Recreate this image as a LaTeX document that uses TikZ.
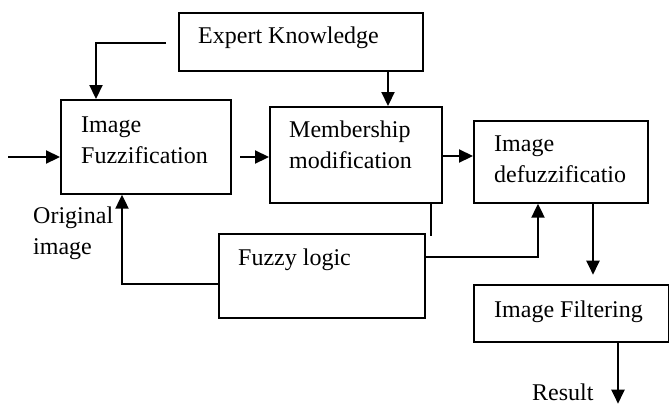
\documentclass[tikz,border=0pt]{standalone}
\usepackage{fontspec}
\setmainfont{Liberation Serif}
\usetikzlibrary{calc,arrows.meta}

\begin{document}
\begin{tikzpicture}[x=1pt,y=-1pt,
  box/.style={draw, line width=1.7pt, inner sep=0pt, anchor=north west},
  lbl/.style={anchor=base west, inner sep=0pt, align=left, font=\fontsize{24}{31}\selectfont},
  arr/.style={line width=2.2pt, -{Triangle[length=14pt,width=13pt]}},
  stub/.style={line width=2.2pt}]
\useasboundingbox (0,0) rectangle (669,405);

\node [box, minimum width=244pt, minimum height=58pt] (expert) at (178,12) {};
\node [box, minimum width=170pt, minimum height=94pt] (fuzz) at (60,99) {};
\node [box, minimum width=172pt, minimum height=96pt] (memb) at (269,106) {};
\node [box, minimum width=174pt, minimum height=82pt] (defuzz) at (473,120) {};
\node [box, minimum width=206pt, minimum height=84pt] (fuzzy) at (218,233) {};
\node [box, minimum width=195pt, minimum height=57pt] (filt) at (473,284) {};

% labels (multi-line ones sit on their last line)
\node [lbl] (t1) at ($(expert.north west)+(20,31)$) {Expert Knowledge};
\node [lbl] (t2) at ($(fuzz.north west)+(21,64)$) {Image\\Fuzzification};
\node [lbl] (t3) at ($(memb.north west)+(20,62)$) {Membership\\modification};
\node [lbl] (t4) at ($(defuzz.north west)+(21,62)$) {Image\\defuzzificatio};
\node [lbl] (t5) at ($(fuzzy.north west)+(20,32)$) {Fuzzy logic};
\node [lbl] (t6) at ($(filt.north west)+(21,33)$) {Image Filtering};
\node [lbl] (orig) at (33,254) {Original\\image};
\node [lbl] (res) at (532,400) {Result};

% inputs
\coordinate (in) at (8,157);
\draw [arr] (in) -- (in -| fuzz.west);
\coordinate (ek) at (166,43);
\draw [arr] (ek) -| ($(fuzz.north west)+(36,0)$);
\draw [arr] ($(expert.south west)+(210,0)$) coordinate(e1) -- (e1 |- memb.north);

% main chain
\coordinate (f1) at (240,157);
\draw [arr] (f1) -- (f1 -| memb.west);
\draw [arr] ($(memb.north east)+(0,50)$) coordinate(m1) -- (m1 -| defuzz.west);
\draw [stub] ($(memb.south east)+(-12,0)$) -- ++(0,32);

% fuzzy logic feedback
\draw [arr] ($(fuzzy.north west)+(0,51)$) -| ($(fuzz.south west)+(62,0)$);
\draw [arr] ($(fuzzy.north east)+(0,24)$) -| ($(defuzz.south west)+(65,0)$);

\draw [arr] ($(defuzz.south west)+(120,0)$) -- ++(0,71);
\draw [arr] ($(filt.south west)+(145,0)$) -- ++(0,61);
\end{tikzpicture}
\end{document}
